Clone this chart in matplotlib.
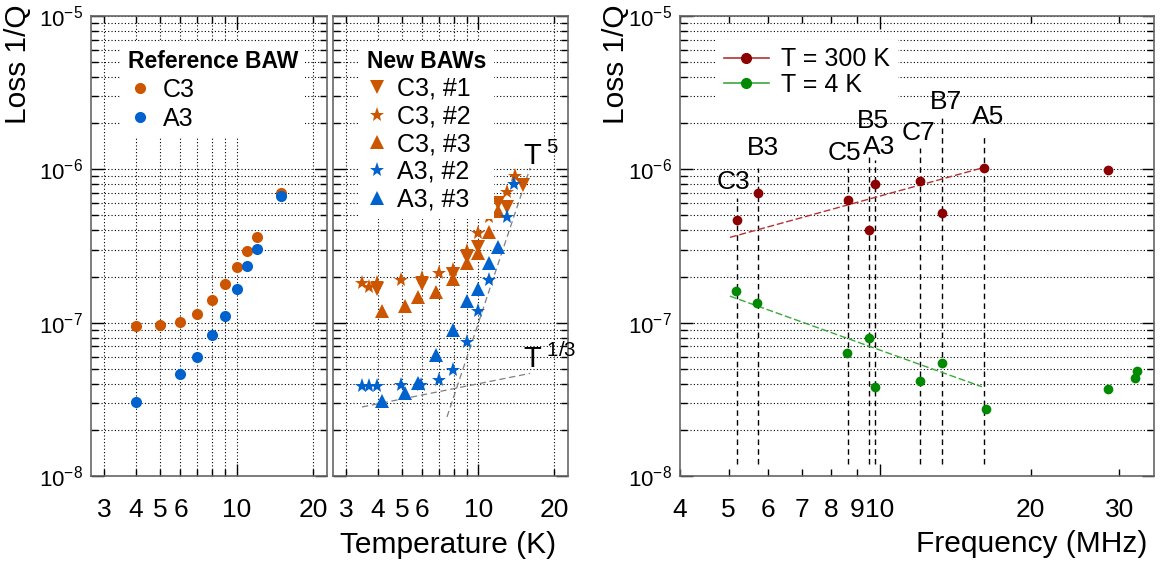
import matplotlib
matplotlib.use("Agg")
import matplotlib.pyplot as plt
from matplotlib.lines import Line2D
from matplotlib.ticker import FixedLocator, NullFormatter

plt.rcParams['font.family'] = ['Liberation Sans', 'DejaVu Sans']
plt.rcParams['mathtext.fontset'] = 'custom'
plt.rcParams['mathtext.rm'] = 'Liberation Sans'
plt.rcParams['mathtext.it'] = 'Liberation Sans'
plt.rcParams['mathtext.default'] = 'regular'

ORANGE = '#cc5500'
BLUE = '#0062cc'
DARKRED = '#8b0000'
RED_LINE = '#b83030'
GREEN = '#008a00'
GREEN_LINE = '#3aaa3a'

# --- Reference BAW (left panel) ---
ref_c3_T = [4, 5, 6, 7, 8, 9, 10, 11, 12, 15]
ref_c3_Q = [9.5e-8, 9.6e-8, 1.01e-7, 1.14e-7, 1.40e-7, 1.78e-7, 2.32e-7, 2.94e-7, 3.6e-7, 7.0e-7]
ref_a3_T = [4, 6, 7, 8, 9, 10, 11, 12, 15]
ref_a3_Q = [3.05e-8, 4.6e-8, 5.94e-8, 8.3e-8, 1.11e-7, 1.66e-7, 2.35e-7, 3.04e-7, 6.7e-7]

# --- New BAWs (middle panel) ---
c3_1_T = [3.97, 6.0, 7.94, 9.0, 10.0, 12.0, 13.0, 15.1]
c3_1_Q = [1.65e-7, 1.80e-7, 2.07e-7, 2.69e-7, 3.13e-7, 6.02e-7, 5.70e-7, 7.9e-7]
c3_2_T = [3.46, 3.68, 3.97, 4.93, 6.0, 6.96, 7.94, 9.0, 10.0, 11.05, 13.0, 14.0]
c3_2_Q = [1.82e-7, 1.70e-7, 1.82e-7, 1.90e-7, 1.95e-7, 2.10e-7, 2.20e-7, 2.93e-7,
          3.83e-7, 4.91e-7, 7.15e-7, 9.03e-7]
c3_3_T = [4.16, 5.14, 5.77, 6.8, 7.94, 9.0, 10.0, 11.0, 12.0]
c3_3_Q = [1.19e-7, 1.28e-7, 1.47e-7, 1.58e-7, 1.92e-7, 2.46e-7, 2.86e-7, 3.88e-7, 5.35e-7]
a3_2_T = [3.46, 3.68, 3.97, 4.93, 5.95, 6.96, 7.98, 9.0, 10.0, 11.05, 13.0, 13.9]
a3_2_Q = [3.86e-8, 3.86e-8, 3.86e-8, 3.92e-8, 3.92e-8, 4.23e-8, 4.91e-8, 7.5e-8,
          1.20e-7, 1.90e-7, 4.91e-7, 7.98e-7]
a3_3_T = [4.16, 5.14, 5.77, 6.8, 7.94, 9.0, 10.0, 11.05, 12.0]
a3_3_Q = [3.08e-8, 3.49e-8, 4.06e-8, 6.15e-8, 8.95e-8, 1.38e-7, 1.67e-7, 2.44e-7, 3.10e-7]

# power-law guide lines (end points)
t5_T = [7.52, 16.07]
t5_Q = [2.43e-8, 1.02e-6]
t13_T = [3.46, 16.07]
t13_Q = [2.82e-8, 4.67e-8]

# --- Frequency dependence (right panel) ---
f300 = [5.19, 5.72, 8.64, 9.51, 9.77, 12.05, 13.3, 16.15, 28.45]
q300 = [4.67e-7, 7.03e-7, 6.3e-7, 4.02e-7, 8.0e-7, 8.4e-7, 5.2e-7, 1.02e-6, 9.9e-7]
f4 = [5.17, 5.70, 8.6, 9.54, 9.77, 12.05, 13.3, 16.25, 28.45, 32.2, 32.6]
q4 = [1.60e-7, 1.35e-7, 6.3e-8, 7.9e-8, 3.79e-8, 4.14e-8, 5.42e-8, 2.74e-8,
      3.67e-8, 4.34e-8, 4.83e-8]
fit300_f = [5.03, 15.98]
fit300_q = [3.6e-7, 1.02e-6]
fit4_f = [5.03, 15.98]
fit4_q = [1.49e-7, 3.82e-8]

modes = ['C3', 'B3', 'C5', 'B5', 'A3', 'C7', 'B7', 'A5']
mode_f = [5.19, 5.72, 8.64, 9.51, 9.77, 12.05, 13.3, 16.15]
mode_top = [6.5e-7, 1.02e-6, 1.02e-6, 1.2e-6, 1.15e-6, 1.38e-6, 2.16e-6, 1.63e-6]
label_f = [5.12, 5.84, 8.51, 9.70, 9.97, 11.95, 13.55, 16.47]
label_q = [8.26e-7, 1.38e-6, 1.28e-6, 2.07e-6, 1.40e-6, 1.72e-6, 2.76e-6, 2.18e-6]

fig = plt.figure(figsize=(11.64, 5.63), dpi=100)
ax1 = fig.add_axes([0.0782, 0.1545, 0.2025, 0.8171])
ax2 = fig.add_axes([0.2863, 0.1545, 0.2016, 0.8171])
ax3 = fig.add_axes([0.5842, 0.1545, 0.4072, 0.8171])

y_major = [1e-8, 1e-7, 1e-6, 1e-5]
y_labels = ['$10^{-8}$', '$10^{-7}$', '$10^{-6}$', '$10^{-5}$']
y_minor = [k * 10.0 ** e for e in (-8, -7, -6) for k in range(2, 10)]
dots = (0, (1, 2))


def style(ax, xlim, xminor, xminor_lab, xgrid=True, ylab=True):
    ax.set_xscale('log')
    ax.set_yscale('log')
    ax.set_xlim(*xlim)
    ax.set_ylim(1e-8, 1e-5)
    ax.set_xticks([10], labels=['10'])
    ax.set_xticks(xminor, labels=xminor_lab, minor=True)
    ax.set_yticks(y_major, labels=y_labels if ylab else [])
    ax.yaxis.set_minor_locator(FixedLocator(y_minor))
    ax.yaxis.set_minor_formatter(NullFormatter())
    ax.tick_params(which='both', direction='in', top=True, right=True, width=1.0)
    ax.tick_params(which='major', length=9)
    ax.tick_params(which='minor', length=5)
    ax.tick_params(axis='x', which='both', pad=16, labelsize=19)
    ax.tick_params(axis='y', which='both', pad=6, labelsize=16)
    ax.grid(True, which='both', axis='both' if xgrid else 'y',
            linestyle=dots, color='black', linewidth=0.8)
    ax.set_axisbelow(True)
    for s in ax.spines.values():
        s.set_color('#666666')
        s.set_linewidth(1.2)


tmin = [3, 4, 5, 6, 7, 8, 9, 20]
tlab = ['3', '4', '5', '6', '', '', '', '20']
style(ax1, (2.66, 22.7), tmin, tlab)
style(ax2, (2.66, 22.7), tmin, tlab, ylab=False)
style(ax3, (4.0, 35.2), [4, 5, 6, 7, 8, 9, 20, 30],
      ['4', '5', '6', '7', '8', '9', '20', '30'], xgrid=False)

leg_kw = dict(loc='upper left', fontsize=18, alignment='left', frameon=True,
              facecolor='white', edgecolor='none', framealpha=1, fancybox=False,
              borderpad=0.3)

# left panel
ax1.plot(ref_c3_T, ref_c3_Q, 'o', color=ORANGE, ms=8, mew=0, label='C3')
ax1.plot(ref_a3_T, ref_a3_Q, 'o', color=BLUE, ms=8, mew=0, label='A3')
ax1.legend(title='Reference BAW', bbox_to_anchor=(0.07, 0.97),
           title_fontproperties={'weight': 'bold', 'size': 16.5},
           handlelength=1.0, handletextpad=0.4, labelspacing=0.2, **leg_kw)

# middle panel
ax2.plot(t5_T, t5_Q, color='#808080', lw=0.9, dashes=(5, 3))
ax2.plot(t13_T, t13_Q, color='#808080', lw=0.9, dashes=(5, 3))
ax2.plot(c3_1_T, c3_1_Q, 'v', color=ORANGE, ms=10, mew=0, label='C3, #1')
ax2.plot(c3_2_T, c3_2_Q, '*', color=ORANGE, ms=11, mew=0, label='C3, #2')
ax2.plot(c3_3_T, c3_3_Q, '^', color=ORANGE, ms=10, mew=0, label='C3, #3')
ax2.plot(a3_2_T, a3_2_Q, '*', color=BLUE, ms=11, mew=0, label='A3, #2')
ax2.plot(a3_3_T, a3_3_Q, '^', color=BLUE, ms=10, mew=0, label='A3, #3')
ax2.text(15.1, 1.07e-6, '$T^{\\ 5}$', fontsize=21, ha='left', va='baseline')
ax2.text(15.1, 5.06e-8, '$T^{\\ 1/3}$', fontsize=21, ha='left', va='baseline')
ax2.legend(title='New BAWs', bbox_to_anchor=(0.06, 0.97),
           title_fontproperties={'weight': 'bold', 'size': 16.5},
           handlelength=0.8, handletextpad=0.4, labelspacing=0.15, **leg_kw)

# right panel
ax3.vlines(mode_f, 1.2e-8, mode_top, colors='black', linestyles=(0, (4, 3)), lw=1.0)
ax3.plot(fit300_f, fit300_q, color=RED_LINE, lw=1.0, dashes=(5, 2))
ax3.plot(fit4_f, fit4_q, color=GREEN_LINE, lw=1.0, dashes=(5, 2))
ax3.plot(f300, q300, 'o', color=DARKRED, ms=7, mew=0)
ax3.plot(f4, q4, 'o', color=GREEN, ms=7, mew=0)
for name, fx, qy in zip(modes, label_f, label_q):
    ax3.text(fx, qy, name, fontsize=19, ha='center', va='center')
handles = [Line2D([], [], color=RED_LINE, lw=1.2, marker='o', ms=7, mfc=DARKRED, mec=DARKRED),
           Line2D([], [], color=GREEN_LINE, lw=1.2, marker='o', ms=7, mfc=GREEN, mec=GREEN)]
ax3.legend(handles, ['T = 300 K', 'T = 4 K'], bbox_to_anchor=(0.05, 0.975),
           handlelength=1.8, handletextpad=0.5, labelspacing=0.05, **leg_kw)

# axis labels (ROOT style: y label at the top, x label at the right)
for ax, xc in ((ax1, -0.31), (ax3, -0.135)):
    ax.set_ylabel('Loss 1/Q', fontsize=21.5)
    lab = ax.yaxis.label
    lab.set_rotation_mode('default')
    lab.set_ha('center')
    lab.set_va('top')
    ax.yaxis.set_label_coords(xc, 1.026)
ax2.set_xlabel('Temperature (K)', fontsize=21.5, loc='right')
ax2.xaxis.set_label_coords(0.949, -0.12)
ax3.set_xlabel('Frequency (MHz)', fontsize=21.5, loc='right')
ax3.xaxis.set_label_coords(0.987, -0.117)

fig.savefig('out.png', dpi=100)
